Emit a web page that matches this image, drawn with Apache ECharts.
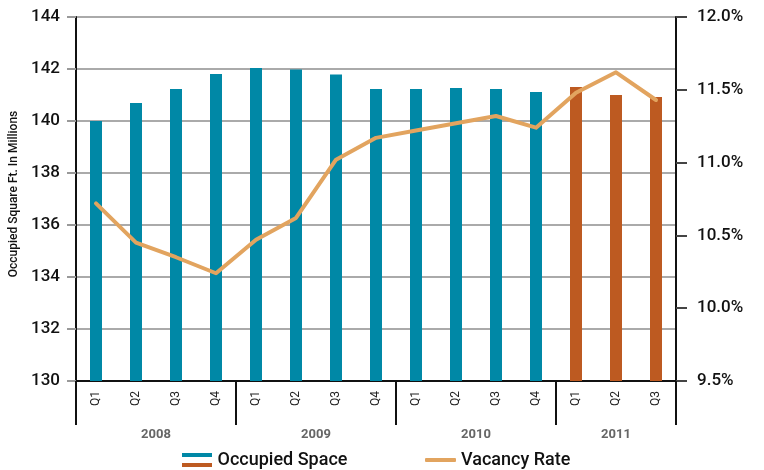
<!DOCTYPE html>
<html>
<head>
<meta charset="utf-8">
<script src="https://cdn.jsdelivr.net/npm/echarts@6/dist/echarts.min.js"></script>
<style>
  html, body { margin: 0; padding: 0; background: #fff; }
  #chart { width: 764px; height: 470px; }
</style>
</head>
<body>
<div id="chart"></div>
<script>
const quarters = ['Q1', 'Q2', 'Q3', 'Q4', 'Q1', 'Q2', 'Q3', 'Q4', 'Q1', 'Q2', 'Q3', 'Q4', 'Q1', 'Q2', 'Q3'];
const years = ['2008', '2009', '2010', '2011'];
const occupied = [140.0, 140.69, 141.23, 141.81, 142.04, 141.98, 141.79, 141.23, 141.23, 141.27, 141.23, 141.12, 141.31, 141.0, 140.92];
const vacancy = [10.72, 10.45, 10.35, 10.24, 10.47, 10.62, 11.02, 11.17, 11.22, 11.27, 11.32, 11.24, 11.48, 11.62, 11.43];
const leftTicks = [130, 132, 134, 136, 138, 140, 142, 144];
const rightTicks = [9.5, 10.0, 10.5, 11.0, 11.5, 12.0];

const TEAL = '#0088a6';
const ORANGE = '#bd5a21';
const LINE = '#e2a45f';
const FONT = 'Roboto';

// years sit on a half-step axis so labels land in the middle of each year
const yearStart = [];
quarters.forEach((q, i) => { if (q === 'Q1') yearStart.push(i); });
const halfSlots = [];
for (let i = 0; i <= quarters.length * 2; i++) halfSlots.push('');
const yearTickSlots = [quarters.length * 2];
years.forEach((y, k) => {
  const s = yearStart[k];
  const e = k + 1 < years.length ? yearStart[k + 1] : quarters.length;
  halfSlots[s + e] = y;
  yearTickSlots.push(2 * s);
});
const lastYearStart = yearStart[yearStart.length - 1];

const chart = echarts.init(document.getElementById('chart'));

const legendText = { fontFamily: FONT, fontSize: 18, fontWeight: 500, color: '#111', lineHeight: 18 };

chart.setOption({
  animation: false,
  grid: { left: 76, right: 88, top: 17, bottom: 89 },
  legend: [{
    left: 182,
    top: 451,
    padding: 0,
    selectedMode: false,
    itemWidth: 31,
    itemHeight: 14,
    itemGap: 0,
    textStyle: legendText,
    data: [{
      name: 'Occupied Space',
      icon: 'path://M0,0 H30 V4 H0 Z M0,10 H30 V14 H0 Z',
      itemStyle: {
        borderWidth: 0,
        color: new echarts.graphic.LinearGradient(0, 0, 0, 1, [
          { offset: 0, color: TEAL }, { offset: 0.5, color: TEAL },
          { offset: 0.5, color: ORANGE }, { offset: 1, color: ORANGE }
        ])
      }
    }]
  }, {
    left: 425,
    top: 451,
    padding: 0,
    selectedMode: false,
    itemWidth: 31,
    itemHeight: 4,
    textStyle: legendText,
    data: [{ name: 'Vacancy Rate', icon: 'roundRect', itemStyle: { color: LINE, borderWidth: 0 } }]
  }],
  xAxis: [{
    type: 'category',
    data: quarters,
    position: 'bottom',
    axisLine: { lineStyle: { color: '#111', width: 2 } },
    axisTick: { interval: 0, length: 34, lineStyle: { color: '#7a7a7a', width: 2 } },
    axisLabel: {
      interval: 0, rotate: 90, margin: 10,
      fontFamily: FONT, fontSize: 12, color: '#222'
    },
    splitLine: { show: false }
  }, {
    type: 'category',
    data: halfSlots,
    position: 'bottom',
    boundaryGap: false,
    z: 5,
    axisLine: { show: false },
    axisTick: {
      length: 44,
      interval: (idx) => yearTickSlots.indexOf(idx) >= 0,
      lineStyle: { color: '#111', width: 2 }
    },
    axisLabel: {
      interval: (idx, val) => val !== '',
      margin: 47,
      fontFamily: FONT, fontSize: 13, fontWeight: 'bold', color: '#666'
    },
    splitLine: { show: false }
  }],
  yAxis: [{
    type: 'value',
    position: 'left',
    min: leftTicks[0],
    max: leftTicks[leftTicks.length - 1],
    interval: leftTicks[1] - leftTicks[0],
    name: 'Occupied Square Ft. In Millions',
    nameLocation: 'middle',
    nameGap: 52,
    nameTextStyle: { fontFamily: FONT, fontSize: 12, fontWeight: 500, color: '#111', padding: [0, 0, 0, 10] },
    axisLine: { show: true, lineStyle: { color: '#111', width: 2 } },
    axisTick: { show: true, length: 9, lineStyle: { color: '#999', width: 2 } },
    axisLabel: { margin: 16, fontFamily: FONT, fontSize: 17, fontWeight: 500, color: '#111' },
    splitLine: { lineStyle: { color: '#aaa', width: 2 } }
  }, {
    type: 'value',
    position: 'right',
    min: rightTicks[0],
    max: rightTicks[rightTicks.length - 1],
    interval: 0.5,
    axisLine: { show: true, lineStyle: { color: '#111', width: 2 } },
    axisTick: { show: true, length: 11, lineStyle: { color: '#444', width: 2 } },
    axisLabel: {
      margin: 21, fontFamily: FONT, fontSize: 17, fontWeight: 500, color: '#111',
      formatter: (v) => v.toFixed(1) + '%'
    },
    splitLine: { show: false }
  }],
  series: [{
    name: 'Occupied Space',
    type: 'bar',
    xAxisIndex: 0,
    yAxisIndex: 0,
    barWidth: 12,
    data: occupied,
    itemStyle: {
      color: (p) => p.dataIndex >= lastYearStart ? ORANGE : TEAL
    }
  }, {
    name: 'Vacancy Rate',
    type: 'line',
    xAxisIndex: 0,
    yAxisIndex: 1,
    data: vacancy,
    symbol: 'none',
    z: 4,
    lineStyle: { color: LINE, width: 4, cap: 'round', join: 'round' },
    itemStyle: { color: LINE }
  }]
});
</script>
</body>
</html>
